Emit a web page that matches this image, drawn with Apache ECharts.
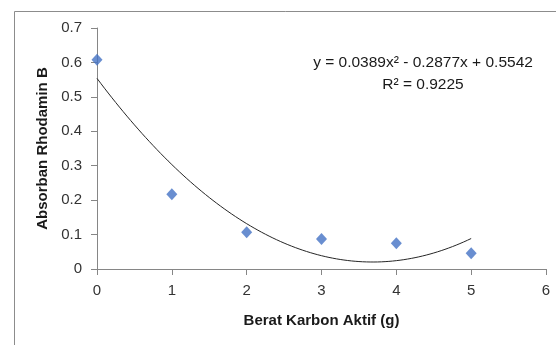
<!DOCTYPE html>
<html><head><meta charset="utf-8">
<script src="https://cdn.jsdelivr.net/npm/echarts@6/dist/echarts.min.js"></script>
<style>html,body{margin:0;padding:0;background:#fff}#c{width:556px;height:345px}</style>
</head><body><div id="c"></div>
<script>
// Data
const xValues = [0, 1, 2, 3, 4, 5];
const absorbance = [0.608, 0.217, 0.107, 0.087, 0.075, 0.046];
const xTicks = [0, 1, 2, 3, 4, 5, 6];
const yTicks = [0, 0.1, 0.2, 0.3, 0.4, 0.5, 0.6, 0.7];
const equationText = 'y = 0.0389x² - 0.2877x + 0.5542';
const r2Text = 'R² = 0.9225';

// Quadratic least-squares trendline computed from the data (as the spreadsheet does)
function quadFit(xs, ys) {
  let S = [0,0,0,0,0], T = [0,0,0];
  xs.forEach((x, i) => {
    for (let k = 0; k < 5; k++) S[k] += Math.pow(x, k);
    for (let k = 0; k < 3; k++) T[k] += Math.pow(x, k) * ys[i];
  });
  const M = [[S[0],S[1],S[2],T[0]],[S[1],S[2],S[3],T[1]],[S[2],S[3],S[4],T[2]]];
  for (let i = 0; i < 3; i++) {
    for (let j = i + 1; j < 3; j++) {
      const f = M[j][i] / M[i][i];
      for (let k = i; k < 4; k++) M[j][k] -= f * M[i][k];
    }
  }
  const r = [0,0,0];
  for (let i = 2; i >= 0; i--) {
    let s = M[i][3];
    for (let k = i + 1; k < 3; k++) s -= M[i][k] * r[k];
    r[i] = s / M[i][i];
  }
  return r; // [a0, a1, a2]
}
const coef = quadFit(xValues, absorbance);
const trend = [];
for (let i = 0; i <= 100; i++) {
  const x = xValues[0] + (xValues[xValues.length - 1] - xValues[0]) * i / 100;
  trend.push([x, coef[0] + coef[1] * x + coef[2] * x * x]);
}

const font = 'Liberation Sans';
const chart = echarts.init(document.getElementById('c'), null, {renderer: 'canvas'});
chart.setOption({
  animation: false,
  backgroundColor: '#fff',
  grid: {left: 97, right: 10, top: 28, bottom: 76, containLabel: false},
  graphic: [
    {type: 'rect', left: 12, top: 9, shape: {width: 560, height: 350},
     style: {fill: 'none', stroke: '#8c8c8c', lineWidth: 1}, silent: true},
    {type: 'text', x: 423, y: 63, style: {text: equationText, font: '15.5px "' + font + '"', fill: '#1a1a1a', align: 'center', verticalAlign: 'middle'}},
    {type: 'text', x: 423, y: 85, style: {text: r2Text, font: '15.5px "' + font + '"', fill: '#1a1a1a', align: 'center', verticalAlign: 'middle'}}
  ],
  xAxis: {
    type: 'value', min: 0, max: 6, interval: 1,
    name: 'Berat Karbon Aktif (g)', nameLocation: 'middle', nameGap: 44,
    nameTextStyle: {fontFamily: font, fontSize: 15, fontWeight: 'bold', color: '#1a1a1a'},
    axisLine: {show: true, onZero: false, lineStyle: {color: '#868686', width: 1}},
    axisTick: {show: true, length: 6, inside: false, lineStyle: {color: '#868686'}},
    axisLabel: {fontFamily: font, fontSize: 15, color: '#333', margin: 14,
      formatter: v => xTicks.includes(v) ? String(v) : ''},
    splitLine: {show: false}
  },
  yAxis: {
    type: 'value', min: 0, max: 0.7, interval: 0.1,
    name: 'Absorban Rhodamin B', nameLocation: 'middle', nameGap: 46, nameRotate: 90,
    nameTextStyle: {fontFamily: font, fontSize: 15, fontWeight: 'bold', color: '#1a1a1a'},
    axisLine: {show: true, lineStyle: {color: '#868686', width: 1}},
    axisTick: {show: true, length: 6, inside: false, lineStyle: {color: '#868686'}},
    axisLabel: {fontFamily: font, fontSize: 15, color: '#333', margin: 15,
      formatter: v => { const t = yTicks.find(y => Math.abs(y - v) < 1e-9); return t === undefined ? '' : String(t); }},
    splitLine: {show: false}
  },
  series: [
    {type: 'line', data: trend, showSymbol: false, smooth: false,
     lineStyle: {color: '#262626', width: 1}, silent: true, z: 2},
    {type: 'scatter', data: xValues.map((x, i) => [x, absorbance[i]]),
     symbol: 'diamond', symbolSize: [11, 12], itemStyle: {color: '#4472C4'}, z: 3}
  ]
});
</script></body></html>
